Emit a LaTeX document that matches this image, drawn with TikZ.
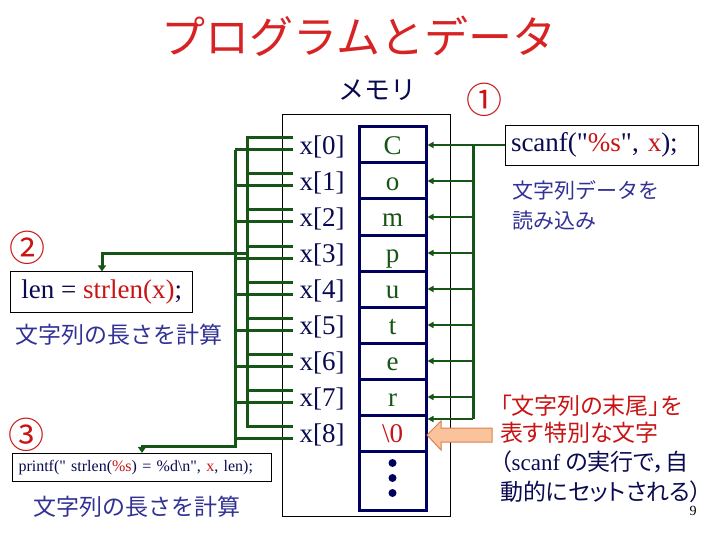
\documentclass[tikz,border=0pt]{standalone}
\usepackage{fontspec}
\setmainfont{Liberation Serif}
\newfontfamily\code{Liberation Serif}
\newfontfamily\jp{Noto Sans CJK JP}
\newfontfamily\jpp[RawFeature=+palt]{Noto Sans CJK JP}
\usetikzlibrary{arrows.meta}
\definecolor{titlered}{RGB}{215,35,35}
\definecolor{codered}{RGB}{200,20,20}
\definecolor{navy}{RGB}{10,10,80}
\definecolor{jblue}{RGB}{50,50,150}
\definecolor{dkgreen}{RGB}{22,85,22}
\definecolor{cellnavy}{RGB}{0,0,95}
\definecolor{peach}{RGB}{250,195,155}
\definecolor{peachedge}{RGB}{215,130,80}
\newcommand{\fs}[1]{\fontsize{#1}{#1}\selectfont}
\begin{document}
\begin{tikzpicture}[x=1pt,y=-1pt,
  txt/.style={inner sep=0pt, outer sep=0pt},
  cellbox/.style={draw=cellnavy, line width=3pt, minimum width=67pt, minimum height=36pt,
    inner sep=0pt, text=dkgreen, font=\fs{27}, text height=19pt, text depth=0pt},
  xlab/.style={inner sep=0pt, text=navy, font=\fs{27}, text height=19pt, text depth=0pt},
  codebox/.style={draw=black, line width=0.8pt, inner sep=0pt, text=navy},
  gline/.style={draw=dkgreen, line width=3pt},
  gtip/.style={-{Triangle[length=6pt,width=8pt]}},
  garrow/.style={draw=dkgreen, line width=2pt, -{Triangle[length=6pt,width=6pt]}},
  circnum/.style={inner sep=0pt, text=codered, font=\jp\fs{36}},
  jtext/.style={inner sep=0pt, anchor=west, font=\jp\fs{23}},
  jptext/.style={inner sep=0pt, anchor=west, font=\jpp\fs{23}},
]
\useasboundingbox (0,0) rectangle (720,540);

% title
\node[txt, text=titlered, font=\jp\fs{44}] (title) at (359,36) {プログラムとデータ};
\node[txt, text=navy, font=\jp\fs{26}] (mem) at (377,90) {メモリ};
\node[circnum] (n1) at (484,100) {①};
\node[circnum] (n2) at (27.5,248) {②};
\node[circnum] (n3) at (27,435) {③};

% outer memory frame
\node[draw=black, line width=0.8pt, minimum width=168pt, minimum height=402pt, inner sep=0pt] (outer) at (366,315) {};

% cells
\foreach \i/\ch in {0/C,1/o,2/m,3/p,4/u,5/t,6/e,7/r} {
  \node[cellbox] (c\i) at (392.5,{145+36*\i}) {\ch};
}
\node[cellbox, text=codered] (c8) at (392.5,433) {\textbackslash 0};
\node[cellbox, minimum height=59pt] (c9) at (392.5,480.5) {};
\foreach \yy in {463,478,493} \fill[cellnavy] (392.5,\yy) circle (4pt);

% index labels
\foreach \i in {0,...,8} {
  \node[xlab] (x\i) at (322,{145+36*\i}) {x[\i]};
}

% left green buses
\foreach \i in {0,...,8} {
  \draw[gline] (247,{138+36*\i}) -- (293,{138+36*\i});
  \draw[gline] (235,{150+36*\i}) -- (293,{150+36*\i});
}
\draw[gline] (247,136.5) -- (247,427.5);

% code boxes
\node[codebox, minimum width=182pt, minimum height=41pt, font=\code\fs{27}] (len) at (101.7,292.3)
  {len = \textcolor{codered}{strlen(x)};};
\node[codebox, minimum width=193pt, minimum height=40pt, font=\code\fs{27}, text width=181pt, align=left, inner xsep=6pt] (scanf) at (601.5,145)
  {scanf("\textcolor{codered}{\%s}", \textcolor{codered}{x});};
\node[codebox, minimum width=259.4pt, minimum height=27.7pt, font=\code\fs{16}, text width=247pt, align=left, inner xsep=6pt] (printf) at (142,467.2)
  {printf(" strlen(\textcolor{codered}{\%s}) = \%d\textbackslash n", \textcolor{codered}{x}, len);};

% connectors to code boxes
\coordinate (b2) at (247,253);
\coordinate (b3) at (235,150);
\draw[gline, gtip] (b2) -- (102,253) -- (len.north -| 102,0);
\draw[gline, gtip] (b3) -- (235,446) -- (142,446) -- (printf.north);

% right side: scanf writes into cells
\draw[gline] (473,145) -- (473,419);
\draw[garrow] (scanf.west) -- (c0.east);
\foreach \i in {1,...,7} {
  \draw[garrow] (473,{145+36*\i}) -- (c\i.east);
}
\coordinate (w8) at (473,419);
\draw[garrow] (w8) -- (c8.east |- w8);

% orange block arrow
\draw[fill=peach, draw=peachedge, line width=1pt]
  (427,435) -- (441,421) -- (441,428) -- (492,428) -- (492,442) -- (441,442) -- (441,450) -- cycle;

% japanese labels
\node[jtext, text=jblue] (lenlabel) at (15,335) {文字列の長さを計算};
\node[jtext, text=jblue] (prlabel) at (33,507) {文字列の長さを計算};
\node[jtext, text=jblue, font=\jp\fs{21}] (sc1) at (512,190) {文字列データを};
\node[jtext, text=jblue, font=\jp\fs{21}] (sc2) at (512,221) {読み込み};
\node[jptext, text=codered] (e1) at (500,406) {「文字列の末尾」を};
\node[jptext, text=codered] (e2) at (500,433) {表す特別な文字};
\node[jptext, text=navy] (e3) at (500,462) {（{\code scanf} の実行で，自};
\node[jptext, text=navy] (e4) at (500,492) {動的にセットされる）};
\node[txt, font=\fs{14}] (pg) at (693,511) {9};
\end{tikzpicture}
\end{document}
